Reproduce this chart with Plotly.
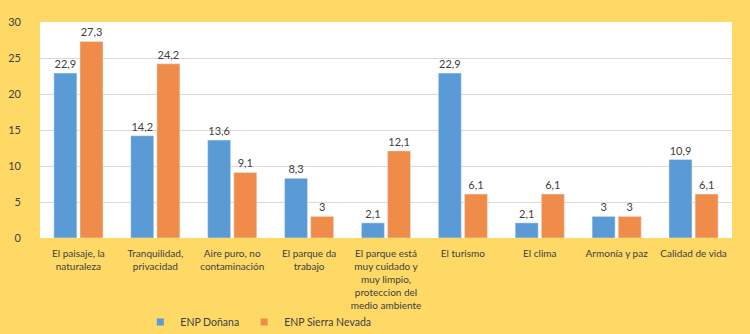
import plotly.graph_objects as go

categories = [
    "El paisaje, la<br>naturaleza",
    "Tranquilidad,<br>privacidad",
    "Aire puro, no<br>contaminación",
    "El parque da<br>trabajo",
    "El parque está<br>muy cuidado y<br>muy limpio,<br>proteccion del<br>medio ambiente",
    "El turismo",
    "El clima",
    "Armonía y paz",
    "Calidad de vida",
]
donana = [22.9, 14.2, 13.6, 8.3, 2.1, 22.9, 2.1, 3, 10.9]
sierra = [27.3, 24.2, 9.1, 3, 12.1, 6.1, 6.1, 3, 6.1]
series_names = ["ENP Doñana", "ENP Sierra Nevada"]
series_colors = ["#5B9BD5", "#F08C4A"]
y_ticks = [0, 5, 10, 15, 20, 25, 30]


def fmt(v):
    return (f"{v:g}").replace(".", ",")


font_family = "Lato, 'Open Sans', sans-serif"
fig = go.Figure()
for name, vals, col in zip(series_names, [donana, sierra], series_colors):
    fig.add_trace(go.Bar(
        x=categories, y=vals, name=name,
        marker=dict(color=col),
        text=[fmt(v) for v in vals], textposition="outside",
        textfont=dict(color="#404040", size=11, family=font_family),
        cliponaxis=False, showlegend=False,
    ))
# legend entries with small square markers
for name, col in zip(series_names, series_colors):
    fig.add_trace(go.Scatter(
        x=[None], y=[None], mode="markers", name=name,
        marker=dict(symbol="square", size=7, color=col),
        showlegend=True,
    ))
fig.update_layout(
    width=750, height=334,
    margin=dict(l=40, r=18, t=22, b=96, autoexpand=False),
    paper_bgcolor="#FFD966",
    plot_bgcolor="#FFFFFF",
    barmode="group",
    bargap=0.32,
    bargroupgap=0.12,
    separators=",.",
    font=dict(family=font_family, size=11, color="#404040"),
    showlegend=True,
    legend=dict(orientation="h", x=0.145, xanchor="left", y=-0.389, yanchor="middle",
                font=dict(size=10.5, color="#404040"), bgcolor="rgba(0,0,0,0)",
                itemwidth=30, traceorder="normal", tracegroupgap=0),
    xaxis=dict(showgrid=False, tickfont=dict(size=10), ticks="", showline=False,
               automargin=False, ticklabelstandoff=8),
    yaxis=dict(range=[0, 30], tickvals=y_ticks, showgrid=True, gridcolor="#D9D9D9",
               zeroline=False, showline=False, ticks="", ticklabelstandoff=18,
               tickfont=dict(size=11), automargin=False),
)
fig.write_html("out.html", config={"displayModeBar": False},
               post_script="document.body.style.margin='0';document.body.style.overflow='hidden';")
